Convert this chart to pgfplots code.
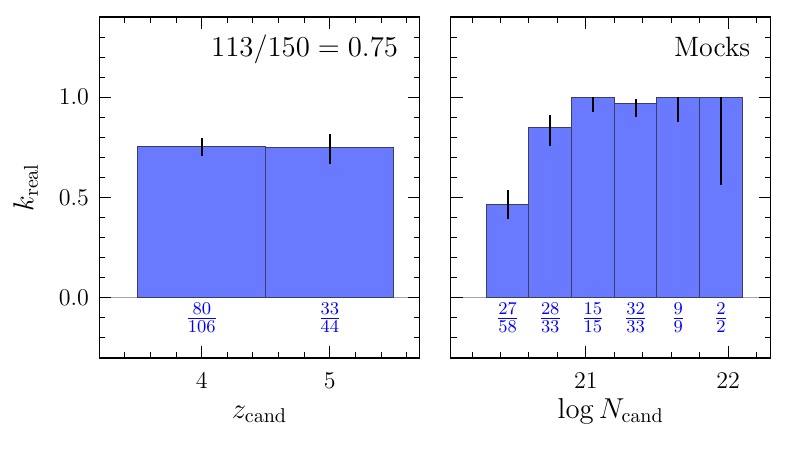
\documentclass[border=0pt]{standalone}
\usepackage{pgfplots}
\pgfplotsset{compat=1.18}
\DeclareMathSizes{12}{12}{8.6}{6}
\definecolor{barblue}{RGB}{106,122,255}
\definecolor{baredge}{RGB}{60,62,95}
\definecolor{zeroline}{RGB}{165,165,165}

\tikzset{
  fraclab/.style={text=blue, font=\fontsize{12}{14}\selectfont, inner sep=0pt},
  corner/.style={anchor=base east, inner sep=0pt, font=\fontsize{14}{17}\selectfont},
}
\pgfplotsset{
  myax/.style={
    scale only axis, width=160pt, height=170.5pt,
    anchor=south west,
    ymin=-0.3, ymax=1.4,
    axis on top,
    tick align=inside,
    tick pos=both,
    major tick length=6pt, minor tick length=3pt,
    axis line style={line width=0.6pt},
    every tick/.append style={black, line width=0.5pt},
    ytick={0,0.5,1},
    minor ytick={-0.2,-0.1,0.1,0.2,0.3,0.4,0.6,0.7,0.8,0.9,1.1,1.2,1.3},
    xticklabel style={font=\fontsize{12}{14}\selectfont, inner sep=0pt, anchor=north, yshift=-7pt},
    yticklabel style={font=\fontsize{12}{14}\selectfont, inner sep=0pt, anchor=east, xshift=-5pt,
      /pgf/number format/.cd, fixed, fixed zerofill, precision=1},
  },
  errs/.style={draw=none, mark=none,
    error bars/.cd, y dir=both, y explicit, error mark=none,
    error bar style={draw=black, line width=1pt}},
  bars/.style={ybar, bar shift=0pt, fill=barblue, draw=baredge, line width=0.5pt},
}

\begin{document}
\begin{tikzpicture}
\useasboundingbox (0,0) rectangle (394pt,224.5pt);

% Left panel
\begin{axis}[myax, at={(49.65pt,45.5pt)}, width=160.1pt,
  xmin=3.2, xmax=5.7,
  xtick={4,5},
  minor xtick={3.4,3.6,3.8,4.2,4.4,4.6,4.8,5.2,5.4,5.6},
  xticklabels={4,5},
]
\addplot[zeroline, line width=0.6pt, forget plot] coordinates {(3.2,0) (5.7,0)};
\addplot[bars, bar width=1] coordinates {(4,0.7547) (5,0.75)};
\addplot[errs] coordinates {
  (4,0.7547) += (0,0.043) -= (0,0.050)
  (5,0.75)   += (0,0.067) -= (0,0.083)
};
\node[fraclab] at (axis cs:4,-0.1) {$\frac{80}{106}$};
\node[fraclab] at (axis cs:5,-0.1) {$\frac{33}{44}$};
\node[corner] at (rel axis cs:0.934,0.8836) {$113/150 = 0.75$};
\end{axis}

% Right panel
\begin{axis}[myax, at={(225.35pt,45.5pt)},
  xmin=20.05, xmax=22.3,
  xtick={21,22},
  xticklabels={21,22},
  minor xtick={20.2,20.4,20.6,20.8,21.2,21.4,21.6,21.8,22.2},
  yticklabels={},
]
\addplot[zeroline, line width=0.6pt, forget plot] coordinates {(20.05,0) (22.3,0)};
\addplot[bars, bar width=0.3] coordinates {
  (20.45,0.4655) (20.75,0.8485) (21.05,1.0) (21.35,0.9697) (21.65,1.0) (21.95,1.0)
};
\addplot[errs] coordinates {
  (20.45,0.4655) += (0,0.073) -= (0,0.074)
  (20.75,0.8485) += (0,0.064) -= (0,0.090)
  (21.05,1.0)    += (0,0.0)   -= (0,0.075)
  (21.35,0.9697) += (0,0.023) -= (0,0.067)
  (21.65,1.0)    += (0,0.0)   -= (0,0.122)
  (21.95,1.0)    += (0,0.0)   -= (0,0.437)
};
\node[fraclab] at (axis cs:20.45,-0.1) {$\frac{27}{58}$};
\node[fraclab] at (axis cs:20.75,-0.1) {$\frac{28}{33}$};
\node[fraclab] at (axis cs:21.05,-0.1) {$\frac{15}{15}$};
\node[fraclab] at (axis cs:21.35,-0.1) {$\frac{32}{33}$};
\node[fraclab] at (axis cs:21.65,-0.1) {$\frac{9}{9}$};
\node[fraclab] at (axis cs:21.95,-0.1) {$\frac{2}{2}$};
\node[corner] at (rel axis cs:0.9375,0.8856) {Mocks};
\end{axis}

% Axis labels
\node[anchor=base, inner sep=0pt, font=\fontsize{14}{17}\selectfont] at (129.75pt,15.25pt) {$z_{\mathrm{cand}}$};
\node[anchor=base, inner sep=0pt, font=\fontsize{14}{17}\selectfont] at (305.35pt,15.25pt) {$\log N_{\mathrm{cand}}$};
\node[anchor=base, rotate=90, inner sep=0pt, font=\fontsize{14}{17}\selectfont] at (16.75pt,130.75pt) {$k_{\mathrm{real}}$};
\end{tikzpicture}
\end{document}
